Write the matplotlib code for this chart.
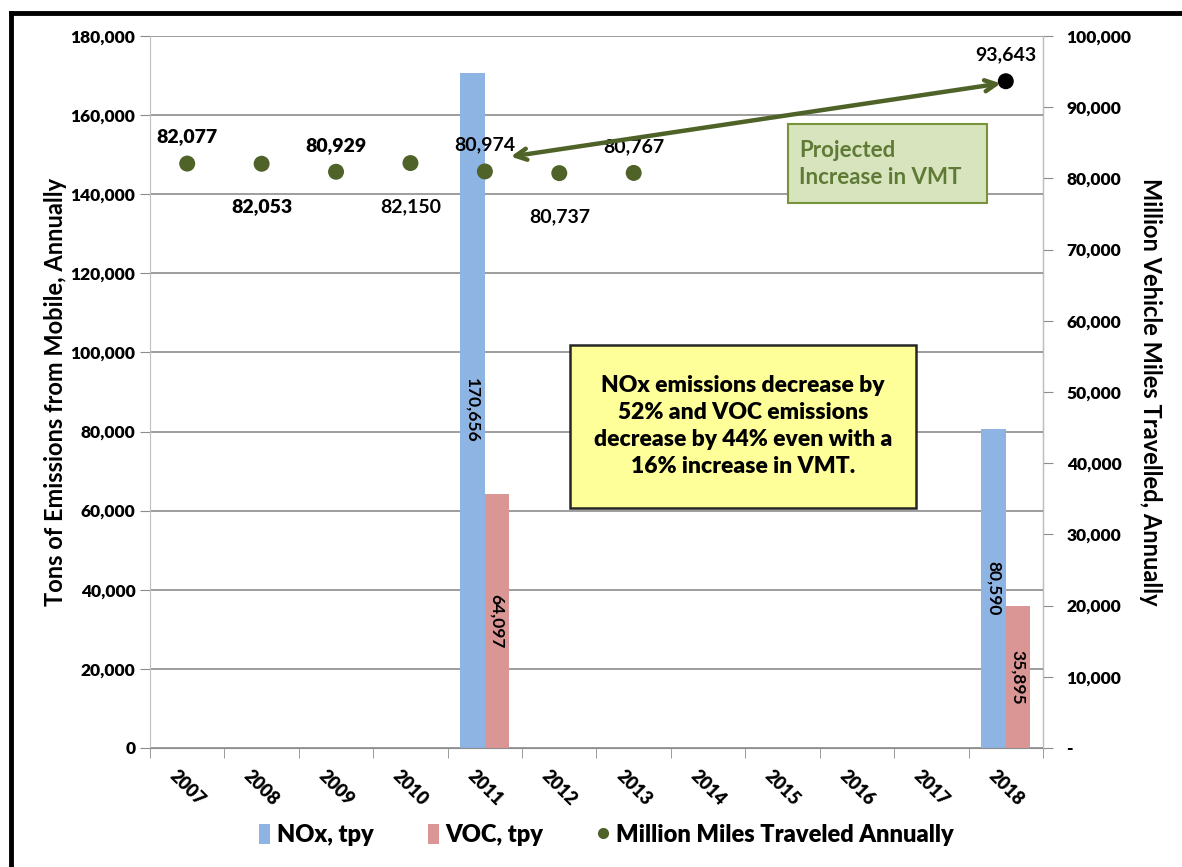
import numpy as np
import matplotlib
matplotlib.use('Agg')
import matplotlib.pyplot as plt
from matplotlib.lines import Line2D
from matplotlib.patches import Patch, Rectangle
from matplotlib.ticker import FuncFormatter, MultipleLocator

# ============================================================================
# DATOS
# ============================================================================

anios = ['2007', '2008', '2009', '2010', '2011', '2012',
         '2013', '2014', '2015', '2016', '2017', '2018']

# Emisiones (toneladas por año) - solo 2011 y 2018
nox_tpy = [np.nan, np.nan, np.nan, np.nan, 170656, np.nan,
           np.nan, np.nan, np.nan, np.nan, np.nan, 80590]
voc_tpy = [np.nan, np.nan, np.nan, np.nan, 64097, np.nan,
           np.nan, np.nan, np.nan, np.nan, np.nan, 35895]

# Millones de millas recorridas por año
vmt = [82077, 82053, 80929, 82150, 80974, 80737,
       80767, np.nan, np.nan, np.nan, np.nan, 93643]

# Etiquetas de VMT arriba o abajo del punto
lado_etiqueta = ['arriba', 'abajo', 'arriba', 'abajo', 'arriba', 'abajo',
                 'arriba', None, None, None, None, 'arriba']

azul = '#8EB4E3'
rosa = '#D99694'
verde = '#4F6228'
gris = '#8C8C8C'
NEGRITA = 'heavy'

plt.rcParams['font.family'] = ['Lato', 'DejaVu Sans']

# ============================================================================
# FIGURA
# ============================================================================

fig = plt.figure(figsize=(11.82, 8.67), dpi=100)
ax = fig.add_axes([0.1269, 0.1373, 0.7555, 0.8212])
ax2 = ax.twinx()

x = np.arange(len(anios))
ancho = 0.33

barras_nox = ax.bar(x - ancho / 2, nox_tpy, ancho, color=azul, zorder=2)
barras_voc = ax.bar(x + ancho / 2, voc_tpy, ancho, color=rosa, zorder=2)

# Etiquetas de valor dentro de las barras (verticales)
for barras, valores in [(barras_nox, nox_tpy), (barras_voc, voc_tpy)]:
    for b, v in zip(barras, valores):
        if np.isnan(v):
            continue
        ax.text(b.get_x() + b.get_width() / 2, v / 2, f'{v:,.0f}',
                rotation=-90, ha='center', va='center',
                fontsize=12.5, fontweight='bold', zorder=3)

# Eje izquierdo
ax.set_xlim(-0.5, len(anios) - 0.5)
ax.set_ylim(0, 180000)
ax.yaxis.set_major_locator(MultipleLocator(20000))
ax.yaxis.set_major_formatter(FuncFormatter(lambda v, p: f'{v:,.0f}'))
ax.grid(axis='y', color=gris, linewidth=1.2, zorder=0)
ax.set_axisbelow(True)

ax.spines['top'].set_visible(False)
ax2.spines['top'].set_visible(False)
ax.spines['left'].set_color('#BFBFBF')
ax.spines['bottom'].set_color(gris)
ax2.spines['right'].set_color('#BFBFBF')
ax2.spines['left'].set_visible(False)
ax2.spines['bottom'].set_visible(False)

ax.set_xticks(x)
ax.set_xticklabels(anios, rotation=-45, ha='center', va='top',
                   fontsize=13, fontweight=NEGRITA)
ax.tick_params(axis='x', length=0, pad=14)
ax.set_xticks(np.arange(-0.5, len(anios), 1), minor=True)
ax.tick_params(axis='x', which='minor', length=7, color=gris)
ax.tick_params(axis='y', length=7, color=gris, labelsize=12.5)
for t in ax.get_yticklabels():
    t.set_fontweight(NEGRITA)

# Eje derecho (VMT)
ax2.set_ylim(0, 100000)
ax2.yaxis.set_major_locator(MultipleLocator(10000))
ax2.yaxis.set_major_formatter(
    FuncFormatter(lambda v, p: '-' if v == 0 else f'{v:,.0f}'))
ax2.tick_params(axis='y', length=7, color=gris, labelsize=12.5, pad=10)
for t in ax2.get_yticklabels():
    t.set_fontweight(NEGRITA)

# Puntos de VMT
colores_pts = [verde] * (len(anios) - 1) + ['black']
ax2.scatter(x, vmt, s=110, c=colores_pts, zorder=4)

for i, (xi, v, lado) in enumerate(zip(x, vmt, lado_etiqueta)):
    if lado is None:
        continue
    peso = NEGRITA if i < 3 else 'bold'
    if lado == 'arriba':
        ax2.annotate(f'{v:,.0f}', (xi, v), xytext=(0, 13),
                     textcoords='offset points', ha='center', va='bottom',
                     fontsize=14, fontweight=peso)
    else:
        ax2.annotate(f'{v:,.0f}', (xi, v), xytext=(0, -25),
                     textcoords='offset points', ha='center', va='top',
                     fontsize=14, fontweight=peso)

# Flecha de aumento proyectado
ax2.annotate('', xy=(10.97, 93400), xytext=(4.31, 83000),
             arrowprops=dict(arrowstyle='<->,head_length=0.8,head_width=0.4',
                             color=verde, lw=3.2), zorder=5)

# Cuadro "Projected Increase in VMT"
ax.add_patch(Rectangle((0.714, 0.765), 0.223, 0.111, transform=ax.transAxes,
                       facecolor='#D7E4BD', edgecolor='#77933C', lw=1.5, zorder=6))
ax.text(0.727, 0.82, 'Projected\nIncrease in VMT', transform=ax.transAxes,
        ha='left', va='center', fontsize=16, color='#5F7A35',
        fontweight='bold', linespacing=1.35, zorder=7)

# Cuadro amarillo con el resumen
ax.add_patch(Rectangle((0.470, 0.337), 0.388, 0.229, transform=ax.transAxes,
                       facecolor='#FFFF99', edgecolor='#262626', lw=1.8, zorder=6))
ax.text(0.664, 0.452,
        'NOx emissions decrease by\n52% and VOC emissions\n'
        'decrease by 44% even with a\n16% increase in VMT.',
        transform=ax.transAxes, ha='center', va='center', fontsize=16.5,
        fontweight=NEGRITA, linespacing=1.35, zorder=7)

# Títulos de ejes
fig.text(0.047, 0.548, 'Tons of Emissions from Mobile, Annually',
         rotation=90, ha='center', va='center', fontsize=17, fontweight='bold')
fig.text(0.973, 0.548, 'Million Vehicle Miles Travelled, Annually',
         rotation=-90, ha='center', va='center', fontsize=17, fontweight='bold')

# Leyenda
manejadores = [
    Patch(facecolor=azul, label='NOx, tpy'),
    Patch(facecolor=rosa, label='VOC, tpy'),
    Line2D([], [], marker='o', linestyle='none', color=verde,
           markersize=7, label='Million Miles Traveled Annually'),
]
fig.legend(handles=manejadores, loc='center', bbox_to_anchor=(0.513, 0.037),
           ncol=3, frameon=False, handlelength=0.45, handleheight=0.9,
           handletextpad=0.3, columnspacing=2.3,
           prop={'size': 17, 'weight': NEGRITA})

# Marco exterior
fig.add_artist(Line2D([0.0089, 0.0089], [0, 0.985], color='black', lw=3.5))
fig.add_artist(Line2D([0.0089, 1], [0.985, 0.985], color='black', lw=3.5))

plt.savefig('out.png', dpi=100)
